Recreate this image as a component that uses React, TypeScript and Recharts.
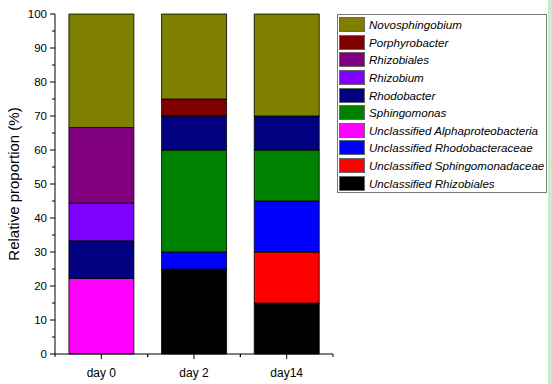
import React from 'react';
import { BarChart, Bar, XAxis, YAxis } from 'recharts';

const categories = ['day 0', 'day 2', 'day14'];

// stack order: bottom -> top
const seriesNames = [
  'Unclassified Rhizobiales',
  'Unclassified Sphingomonadaceae',
  'Unclassified Rhodobacteraceae',
  'Unclassified Alphaproteobacteria',
  'Sphingomonas',
  'Rhodobacter',
  'Rhizobium',
  'Rhizobiales',
  'Porphyrobacter',
  'Novosphingobium',
];

const unclassifiedRhizobiales = [0, 25, 15];
const unclassifiedSphingomonadaceae = [0, 0, 15];
const unclassifiedRhodobacteraceae = [0, 5, 15];
const unclassifiedAlphaproteobacteria = [22.2, 0, 0];
const sphingomonas = [0, 30, 15];
const rhodobacter = [11.1, 10, 10];
const rhizobium = [11.1, 0, 0];
const rhizobiales = [22.2, 0, 0];
const porphyrobacter = [0, 5, 0];
const novosphingobium = [33.4, 25, 30];

const seriesValues = [
  unclassifiedRhizobiales,
  unclassifiedSphingomonadaceae,
  unclassifiedRhodobacteraceae,
  unclassifiedAlphaproteobacteria,
  sphingomonas,
  rhodobacter,
  rhizobium,
  rhizobiales,
  porphyrobacter,
  novosphingobium,
];

const colors = [
  '#000000',
  '#FF0000',
  '#0000FF',
  '#FF00FF',
  '#008000',
  '#000080',
  '#8000FF',
  '#800080',
  '#800000',
  '#808000',
];

const yTicks = [0, 5, 10, 15, 20, 25, 30, 35, 40, 45, 50, 55, 60, 65, 70, 75, 80, 85, 90, 95, 100];

const data = categories.map((c, i) => {
  const row: Record<string, any> = { name: c };
  seriesNames.forEach((s, j) => {
    row[s] = seriesValues[j][i];
  });
  return row;
});

const FONT = '"Liberation Sans", Arial, sans-serif';
const PLOT_W = 278;

const YTick = (props: any) => {
  const { x, y, payload } = props;
  const axisX = x + 7;
  const major = payload.value % 10 === 0;
  return (
    <g>
      <line x1={axisX - (major ? 5 : 3)} x2={axisX} y1={y} y2={y} stroke="#000" strokeWidth={1} />
      {major && (
        <text x={axisX - 8} y={y} dy="0.35em" textAnchor="end" fontSize={11.5} fontFamily={FONT} fill="#000">
          {payload.value}
        </text>
      )}
    </g>
  );
};

const XTick = (props: any) => {
  const { x, y, payload } = props;
  const axisY = y - 7;
  const half = PLOT_W / categories.length / 2;
  return (
    <g>
      <line x1={x} x2={x} y1={axisY} y2={axisY + 5} stroke="#000" />
      <line x1={x - half} x2={x - half} y1={axisY} y2={axisY + 3} stroke="#000" />
      <line x1={x + half} x2={x + half} y1={axisY} y2={axisY + 3} stroke="#000" />
      <text x={x} y={axisY + 23} textAnchor="middle" fontSize={12} fontFamily={FONT} fill="#000">
        {payload.value}
      </text>
    </g>
  );
};

const legendItems = seriesNames.map((s, i) => ({ name: s, color: colors[i] })).reverse();

export default function App() {
  return (
    <div style={{ position: 'absolute', left: 0, top: 0, width: 552, height: 384, background: '#fff' }}>
      <div style={{ position: 'absolute', left: 548, top: 0, width: 4, height: 384, background: '#c8ecd0' }} />
      <BarChart
        width={552}
        height={384}
        data={data}
        margin={{ top: 14, right: 219, bottom: 0, left: 0 }}
        barCategoryGap="15%"
      >
        <XAxis
          dataKey="name"
          tick={<XTick />}
          tickLine={false}
          axisLine={{ stroke: '#000' }}
          tickSize={5}
          tickMargin={2}
          height={30}
          interval={0}
        />
        <XAxis xAxisId="top" orientation="top" dataKey="name" tick={false} tickLine={false} axisLine={{ stroke: '#000' }} height={0} />
        <YAxis
          domain={[0, 100]}
          ticks={yTicks}
          interval={0}
          tick={<YTick />}
          tickLine={false}
          tickSize={5}
          tickMargin={2}
          axisLine={{ stroke: '#000' }}
          width={55}
          label={{
            value: 'Relative proportion (%)',
            angle: -90,
            position: 'insideLeft',
            offset: 0,
            dx: 14,
            style: { fontFamily: FONT, fontSize: 15, fill: '#000', textAnchor: 'middle' },
          }}
        />
        <YAxis yAxisId="right" orientation="right" domain={[0, 100]} tick={false} tickLine={false} axisLine={{ stroke: '#000' }} width={0} />
        {seriesNames.map((s, i) => (
          <Bar key={s} dataKey={s} stackId="a" fill={colors[i]} stroke="#000" strokeWidth={0.8} isAnimationActive={false} />
        ))}
      </BarChart>
      <div
        style={{
          position: 'absolute',
          left: 337,
          top: 14,
          border: '1px solid #7a7a7a',
          width: 210,
          height: 179,
          boxSizing: 'border-box',
          padding: '1px 0 0 1px',
          background: '#fff',
        }}
      >
        {legendItems.map((p) => (
          <div key={p.name} style={{ display: 'flex', alignItems: 'center', height: 17.6 }}>
            <div
              style={{
                width: 26,
                height: 15,
                background: p.color,
                border: '1px solid #666',
                boxSizing: 'border-box',
                marginRight: 4,
                flexShrink: 0,
              }}
            />
            <span style={{ fontFamily: FONT, fontStyle: 'italic', fontSize: 11.6, color: '#000', whiteSpace: 'nowrap' }}>
              {p.name}
            </span>
          </div>
        ))}
      </div>
    </div>
  );
}
